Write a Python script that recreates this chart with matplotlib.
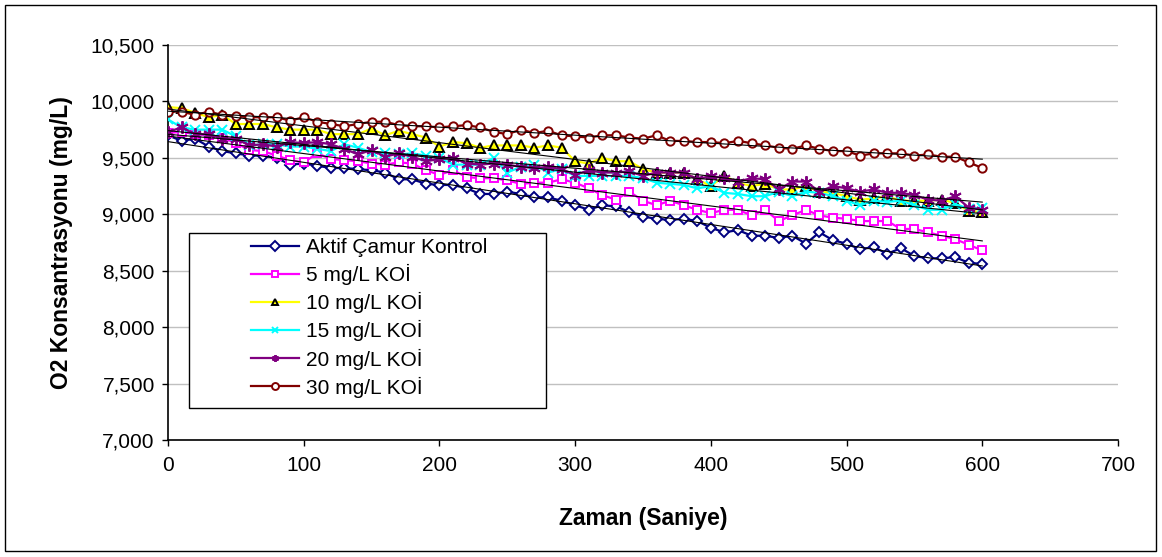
import numpy as np
import matplotlib.pyplot as plt
from matplotlib.patches import Rectangle
from matplotlib.ticker import FuncFormatter

plt.rcParams['font.family'] = ['Liberation Sans', 'DejaVu Sans']

# time axis, one reading every 10 s
zaman = np.arange(0, 610, 10)

kontrol = [9.70, 9.65, 9.67, 9.60, 9.56, 9.54, 9.52, 9.52, 9.50, 9.44,
           9.45, 9.43, 9.41, 9.41, 9.40, 9.39, 9.37, 9.31, 9.31, 9.27,
           9.26, 9.26, 9.23, 9.18, 9.18, 9.20, 9.18, 9.15, 9.15, 9.12,
           9.08, 9.04, 9.08, 9.07, 9.02, 8.98, 8.96, 8.95, 8.96, 8.94,
           8.88, 8.84, 8.86, 8.81, 8.81, 8.79, 8.81, 8.74, 8.84, 8.77,
           8.74, 8.69, 8.71, 8.65, 8.70, 8.63, 8.61, 8.61, 8.62, 8.57, 8.56]
koi5 = [9.72, 9.73, 9.71, 9.70, 9.68, 9.63, 9.57, 9.56, 9.52, 9.48,
        9.46, 9.54, 9.49, 9.48, 9.47, 9.45, 9.44, 9.46, 9.45, 9.39,
        9.35, 9.39, 9.33, 9.32, 9.32, 9.30, 9.27, 9.28, 9.28, 9.31,
        9.28, 9.23, 9.17, 9.13, 9.20, 9.12, 9.08, 9.12, 9.08, 9.04,
        9.01, 9.04, 9.04, 8.99, 9.04, 8.94, 8.99, 9.04, 8.99, 8.97,
        8.96, 8.94, 8.94, 8.94, 8.87, 8.87, 8.84, 8.81, 8.78, 8.73, 8.68]
koi10 = [9.95, 9.94, 9.90, 9.86, 9.88, 9.80, 9.80, 9.80, 9.77, 9.75,
         9.75, 9.75, 9.71, 9.71, 9.71, 9.76, 9.70, 9.74, 9.71, 9.68,
         9.60, 9.64, 9.63, 9.59, 9.61, 9.61, 9.61, 9.59, 9.61, 9.59,
         9.47, 9.45, 9.50, 9.47, 9.47, 9.40, 9.37, 9.37, 9.37, 9.31,
         9.25, 9.34, 9.28, 9.25, 9.27, 9.22, 9.22, 9.25, 9.20, 9.19,
         9.16, 9.13, 9.14, 9.16, 9.12, 9.12, 9.12, 9.13, 9.10, 9.03, 9.02]
koi15 = [9.84, 9.77, 9.75, 9.75, 9.75, 9.69, 9.61, 9.62, 9.62, 9.60,
         9.60, 9.58, 9.56, 9.62, 9.59, 9.55, 9.54, 9.53, 9.54, 9.52,
         9.50, 9.44, 9.44, 9.44, 9.50, 9.37, 9.42, 9.44, 9.37, 9.40,
         9.34, 9.34, 9.34, 9.34, 9.34, 9.32, 9.28, 9.27, 9.26, 9.23,
         9.25, 9.19, 9.18, 9.16, 9.16, 9.20, 9.16, 9.20, 9.19, 9.16,
         9.12, 9.08, 9.12, 9.11, 9.12, 9.08, 9.04, 9.04, 9.09, 9.05, 9.06]
koi20 = [9.73, 9.77, 9.71, 9.71, 9.67, 9.67, 9.61, 9.62, 9.60, 9.64,
         9.63, 9.64, 9.62, 9.58, 9.53, 9.57, 9.51, 9.54, 9.51, 9.47,
         9.49, 9.50, 9.45, 9.44, 9.45, 9.44, 9.42, 9.41, 9.42, 9.40,
         9.35, 9.39, 9.37, 9.37, 9.38, 9.34, 9.37, 9.37, 9.37, 9.31,
         9.34, 9.32, 9.29, 9.32, 9.31, 9.22, 9.29, 9.29, 9.20, 9.25,
         9.23, 9.20, 9.22, 9.19, 9.19, 9.17, 9.13, 9.12, 9.16, 9.06, 9.04]
koi30 = [9.91, 9.91, 9.88, 9.91, 9.88, 9.87, 9.86, 9.86, 9.86, 9.83,
         9.86, 9.82, 9.80, 9.78, 9.80, 9.82, 9.82, 9.79, 9.78, 9.78,
         9.77, 9.78, 9.79, 9.77, 9.73, 9.71, 9.75, 9.72, 9.74, 9.70,
         9.69, 9.68, 9.70, 9.70, 9.68, 9.67, 9.70, 9.65, 9.65, 9.64,
         9.64, 9.63, 9.65, 9.63, 9.61, 9.59, 9.58, 9.61, 9.58, 9.56,
         9.56, 9.52, 9.54, 9.54, 9.54, 9.52, 9.53, 9.51, 9.51, 9.46, 9.41]

seriler = [
    ('Aktif Çamur Kontrol', kontrol, '#000080', 'D', 'white', '#000080', 5),
    ('5 mg/L KOİ', koi5, '#FF00FF', 's', 'white', '#FF00FF', 5.5),
    ('10 mg/L KOİ', koi10, '#FFFF00', '^', '#FFFF00', 'black', 6.5),
    ('15 mg/L KOİ', koi15, '#00FFFF', 'x', '#00FFFF', '#00FFFF', 7),
    ('20 mg/L KOİ', koi20, '#800080', (6, 2, 0), '#800080', '#800080', 9),
    ('30 mg/L KOİ', koi30, '#800000', 'o', 'white', '#800000', 6),
]

W, H = 1162, 557
fig = plt.figure(figsize=(W / 100, H / 100), dpi=100)
ax = fig.add_axes([168 / W, 1 - 440 / H, 950 / W, 395 / H])

for ad, y, renk, mk, fc, ec, ms in seriler:
    ax.plot(zaman, y, color=renk, lw=1.6, marker=mk, markersize=ms,
            markerfacecolor=fc, markeredgecolor=ec, markeredgewidth=1.4,
            label=ad, zorder=3)

# linear trend lines
for ad, y, *_ in seriler:
    k = np.polyfit(zaman, y, 1)
    ax.plot(zaman[[0, -1]], np.polyval(k, zaman[[0, -1]]), color='black',
            lw=0.8, zorder=4)

ax.set_xlim(0, 700)
ax.set_ylim(7.0, 10.5)
ax.set_xticks(np.arange(0, 701, 100))
ax.set_yticks(np.arange(7.0, 10.51, 0.5))
ax.yaxis.set_major_formatter(FuncFormatter(lambda v, p: f'{v:.3f}'.replace('.', ',')))
ax.tick_params(labelsize=15, length=4.5, width=1, direction='out')
ax.tick_params(axis='x', pad=7)
ax.tick_params(axis='y', pad=5)
ax.grid(axis='y', color='#c0c0c0', lw=1)
ax.set_axisbelow(True)
for s in ['top', 'right']:
    ax.spines[s].set_visible(False)
ax.spines['left'].set_linewidth(1.2)
ax.spines['bottom'].set_linewidth(1.2)

ax.set_xlabel('Zaman (Saniye)', fontsize=16.5, fontweight='bold')
ax.set_ylabel('O2 Konsantrasyonu (mg/L)', fontsize=16.5, fontweight='bold')
ax.xaxis.set_label_coords(0.5, -0.17)
ax.yaxis.set_label_coords(-0.1, 0.5)

# legend: white box with black frame, entries indented as in the original
ax.add_patch(Rectangle((189 / W, 1 - 408 / H), 357 / W, 175 / H,
                       transform=fig.transFigure, facecolor='white',
                       edgecolor='black', lw=1, zorder=5, clip_on=False))
leg = ax.legend(loc='upper left', bbox_to_anchor=(251 / W, 1 - 238 / H),
                bbox_transform=fig.transFigure, fontsize=15, frameon=False,
                handlelength=2.3, labelspacing=0.34, borderpad=0,
                handletextpad=0.35, borderaxespad=0)
for h in leg.legend_handles:
    h.set_markersize(5)
leg.set_zorder(6)

fig.add_artist(Rectangle((5 / W, 1 - 551 / H), 1151 / W, 546 / H,
                         transform=fig.transFigure, fill=False,
                         edgecolor='black', lw=1))

fig.savefig('out.png', dpi=100)
